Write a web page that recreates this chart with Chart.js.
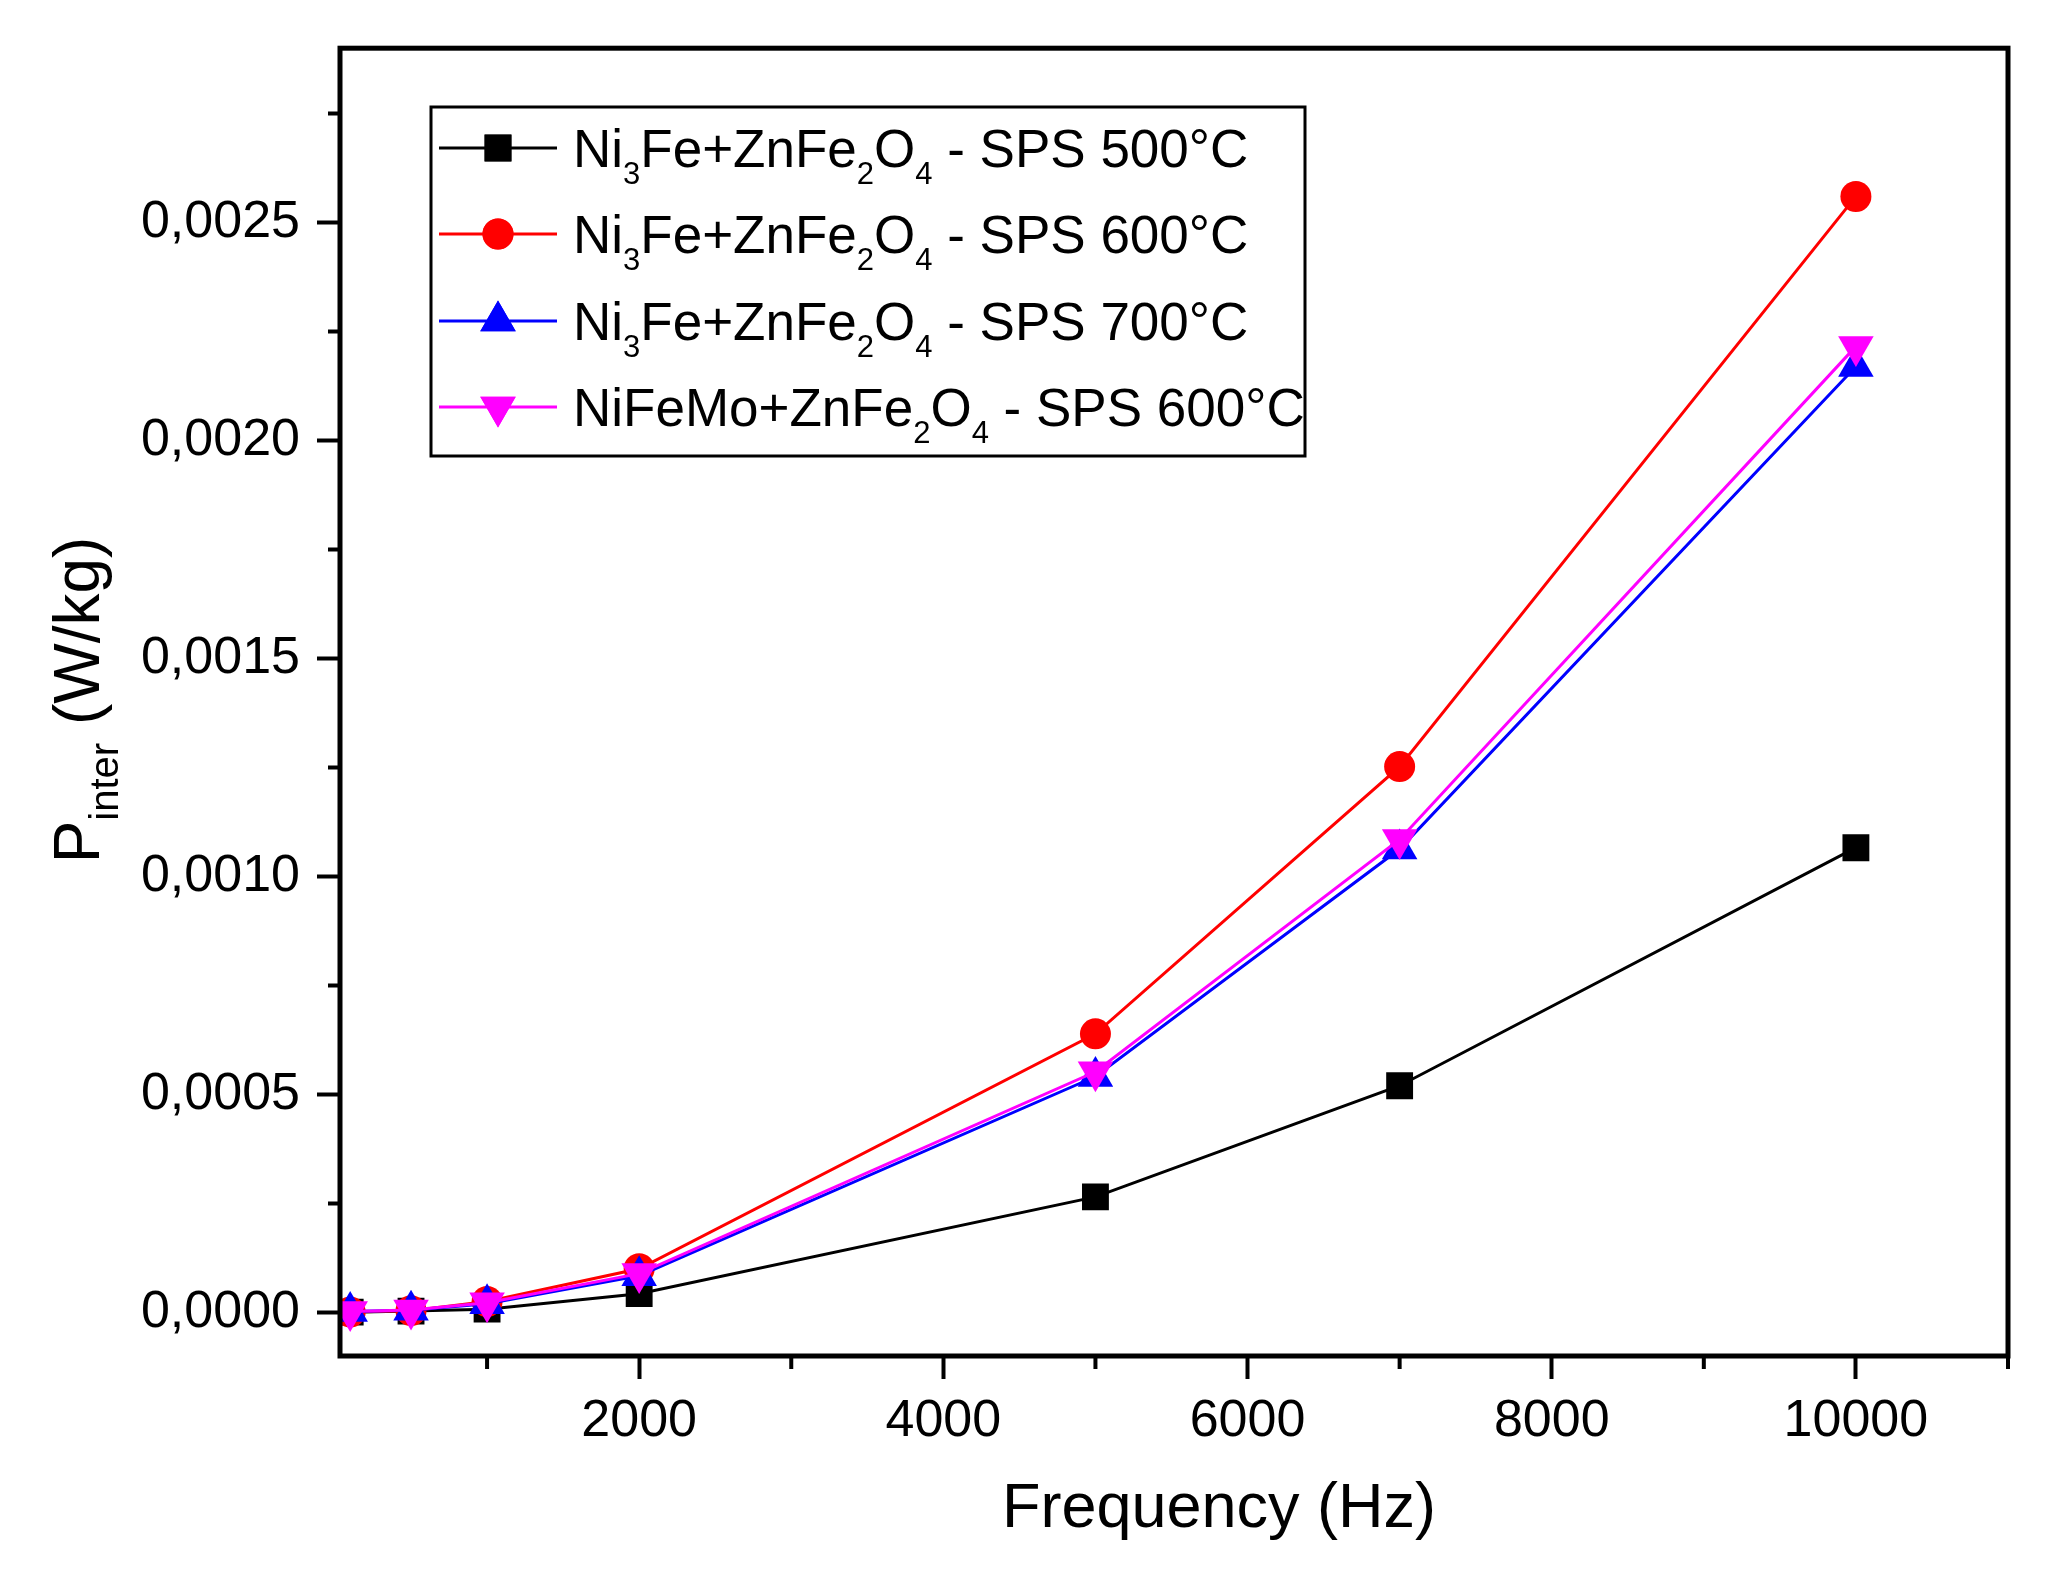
<!DOCTYPE html>
<html>
<head>
<meta charset="utf-8">
<script src="https://cdn.jsdelivr.net/npm/chart.js@4/dist/chart.umd.min.js"></script>
<style>
  html, body { margin: 0; padding: 0; background: #fff; }
  #wrap { width: 2062px; height: 1577px; }
</style>
</head>
<body>
<div id="wrap"><canvas id="chart" width="2062" height="1577"></canvas></div>
<script>
// Data
const freqHz = [100, 500, 1000, 2000, 5000, 7000, 10000];
const sps500 = [0.0000005, 0.000003, 0.0000075, 0.000043, 0.000265, 0.00052, 0.001066];
const sps600 = [0.000001, 0.000004, 0.000025, 0.0001, 0.000639, 0.001252, 0.00256];
const sps700 = [0.000002, 0.000005, 0.00002, 0.000084, 0.000541, 0.001063, 0.00217];
const nifemo600 = [0.000002, 0.0000055, 0.000022, 0.000089, 0.000552, 0.001085, 0.002216];

const xMajorTicks = [2000, 4000, 6000, 8000, 10000];
const xMinorTicks = [1000, 3000, 5000, 7000, 9000, 11000];
const yMajorTicks = [0, 0.0005, 0.001, 0.0015, 0.002, 0.0025];
const yMinorTicks = [0.00025, 0.00075, 0.00125, 0.00175, 0.00225, 0.00275];

// legend labels, parts flagged as subscript
const legendLabels = [
    [['Ni'], ['3', 1], ['Fe+ZnFe'], ['2', 1], ['O'], ['4', 1], [' - SPS 500°C']],
    [['Ni'], ['3', 1], ['Fe+ZnFe'], ['2', 1], ['O'], ['4', 1], [' - SPS 600°C']],
    [['Ni'], ['3', 1], ['Fe+ZnFe'], ['2', 1], ['O'], ['4', 1], [' - SPS 700°C']],
    [['NiFeMo+ZnFe'], ['2', 1], ['O'], ['4', 1], [' - SPS 600°C']]
];

const FONT = '"Liberation Sans", Arial, sans-serif';

const toPoints = (ys) => freqHz.map((f, i) => ({ x: f, y: ys[i] }));

const makeSeries = (ys, color, style, radius, rotation, order) => ({
    data: toPoints(ys),
    borderColor: color,
    backgroundColor: color,
    borderWidth: 3,
    pointStyle: style,
    pointRadius: radius,
    pointRotation: rotation,
    pointBorderWidth: 0,
    pointBackgroundColor: color,
    tension: 0,
    order: order
});

const series = [
    makeSeries(sps500, '#000000', 'rect', 19, 0, 4),
    makeSeries(sps600, '#ff0000', 'circle', 15.5, 0, 3),
    makeSeries(sps700, '#0000ff', 'triangle', 20.5, 0, 2),
    makeSeries(nifemo600, '#ff00ff', 'triangle', 20.5, 180, 1)
];

// draws a run of text with subscripts, returns end x
function drawRich(ctx, parts, x, y, size, subSize, subDrop) {
    ctx.textAlign = 'left';
    ctx.textBaseline = 'alphabetic';
    for (const [t, sub] of parts) {
        ctx.font = `${sub ? subSize : size}px ${FONT}`;
        ctx.fillText(t, x, sub ? y + subDrop : y);
        x += ctx.measureText(t).width;
    }
    return x;
}

const framePlugin = {
    id: 'frame',
    afterDraw(chart) {
        const { ctx, chartArea: a, scales: { x, y } } = chart;
        ctx.save();
        ctx.strokeStyle = '#000';
        ctx.fillStyle = '#000';

        // plot box
        ctx.lineWidth = 5;
        ctx.strokeRect(a.left, a.top, a.right - a.left, a.bottom - a.top);

        // minor ticks
        ctx.lineWidth = 4;
        ctx.beginPath();
        xMinorTicks.forEach(v => {
            const px = x.getPixelForValue(v);
            ctx.moveTo(px, a.bottom);
            ctx.lineTo(px, a.bottom + 13);
        });
        yMinorTicks.forEach(v => {
            const py = y.getPixelForValue(v);
            ctx.moveTo(a.left, py);
            ctx.lineTo(a.left - 12, py);
        });
        ctx.stroke();

        // legend box
        ctx.lineWidth = 3;
        ctx.strokeRect(431, 107, 874, 349);
        const rowY = [148, 234, 321, 407];
        series.forEach((s, i) => {
            ctx.strokeStyle = s.borderColor;
            ctx.lineWidth = 3;
            ctx.beginPath();
            ctx.moveTo(439, rowY[i]);
            ctx.lineTo(557, rowY[i]);
            ctx.stroke();
            ctx.fillStyle = s.borderColor;
            Chart.helpers.drawPoint(ctx, {
                pointStyle: s.pointStyle, radius: s.pointRadius,
                rotation: s.pointRotation, borderWidth: 0
            }, 498, rowY[i]);
            ctx.fill();
            ctx.fillStyle = '#000';
            drawRich(ctx, legendLabels[i], 573, rowY[i] + 19, 53, 31, 17);
        });

        // x axis title
        ctx.fillStyle = '#000';
        ctx.font = `63px ${FONT}`;
        ctx.textAlign = 'center';
        ctx.textBaseline = 'alphabetic';
        ctx.fillText('Frequency (Hz)', 1219, 1527);

        // y axis title (rotated, with subscript)
        const yParts = [['P'], ['inter', 1], [' (W/kg)']];
        ctx.save();
        ctx.translate(99, 700);
        ctx.rotate(-Math.PI / 2);
        let w = 0;
        yParts.forEach(([t, sub]) => {
            ctx.font = `${sub ? 40 : 64}px ${FONT}`;
            w += ctx.measureText(t).width;
        });
        drawRich(ctx, yParts, -w / 2, 0, 64, 40, 19);
        ctx.restore();

        ctx.restore();
    }
};

new Chart(document.getElementById('chart'), {
    type: 'line',
    data: { datasets: series },
    options: {
        responsive: false,
        animation: false,
        devicePixelRatio: 1,
        layout: { padding: { top: 44, right: 54, left: 0, bottom: 0 } },
        plugins: { legend: { display: false }, tooltip: { enabled: false } },
        scales: {
            x: {
                type: 'linear',
                min: 33,
                max: 11000,
                afterFit: (scale) => { scale.height = 221; },
                afterBuildTicks: (scale) => { scale.ticks = xMajorTicks.map(v => ({ value: v })); },
                border: { display: false },
                grid: { drawOnChartArea: false, tickLength: 23, tickWidth: 4, tickColor: '#000' },
                ticks: {
                    color: '#000',
                    padding: 11,
                    maxRotation: 0,
                    font: { family: FONT, size: 52 },
                    callback: (v) => String(v)
                }
            },
            y: {
                type: 'linear',
                min: -0.0001,
                max: 0.0029,
                afterFit: (scale) => { scale.width = 340; },
                afterBuildTicks: (scale) => { scale.ticks = yMajorTicks.map(v => ({ value: v })); },
                border: { display: false },
                grid: { drawOnChartArea: false, tickLength: 23, tickWidth: 4, tickColor: '#000' },
                ticks: {
                    color: '#000',
                    padding: 17,
                    font: { family: FONT, size: 52 },
                    callback: (v) => Number(v).toFixed(4).replace('.', ',')
                }
            }
        }
    },
    plugins: [framePlugin]
});
</script>
</body>
</html>
